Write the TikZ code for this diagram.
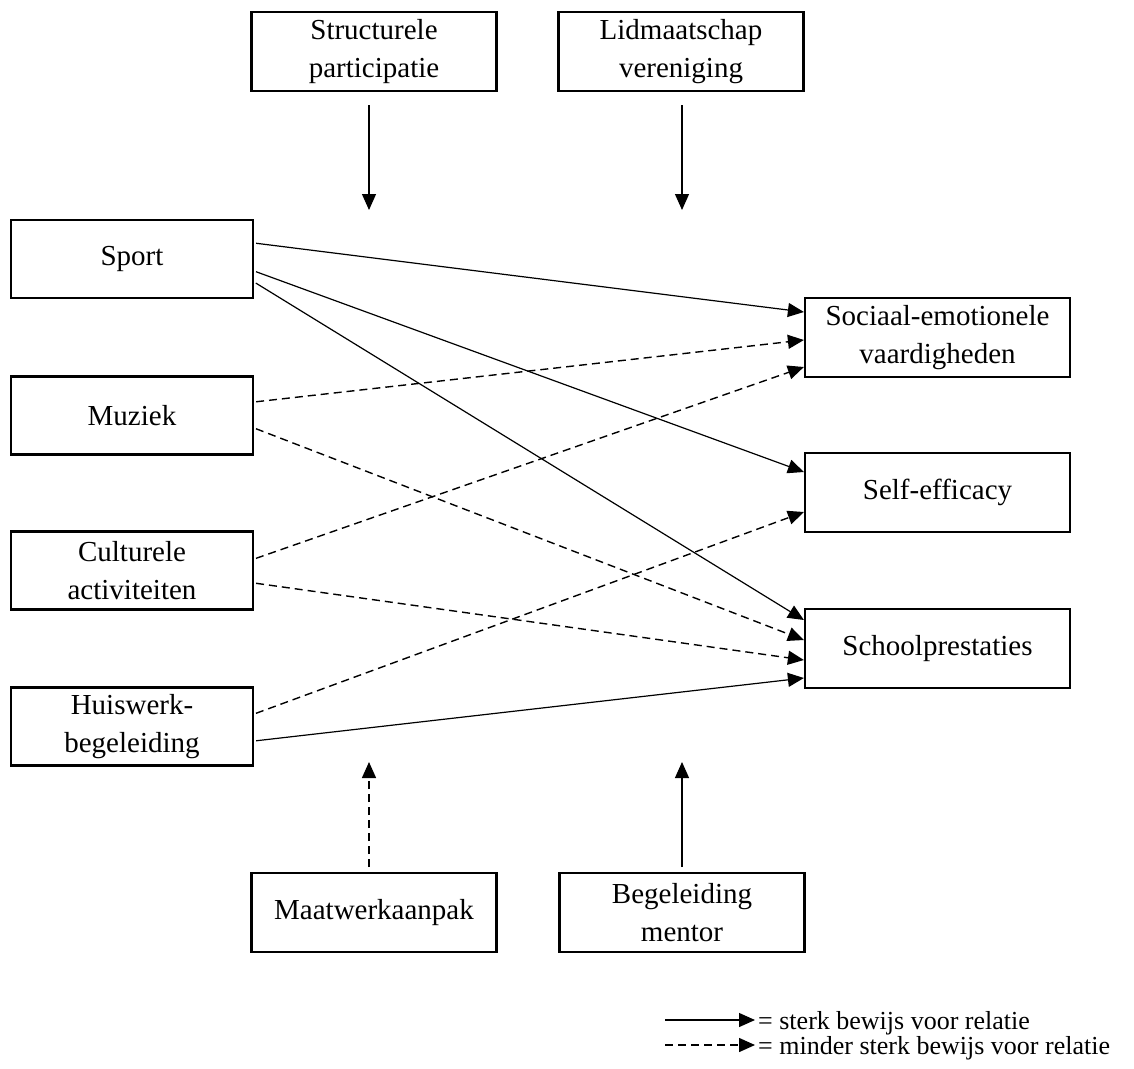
\documentclass[tikz,border=0pt]{standalone}
\usepackage{fontspec}
\setmainfont{Liberation Serif}
\usetikzlibrary{arrows.meta}
\begin{document}
\begin{tikzpicture}[x=1pt,y=-1pt,
  box/.style={draw, line width=2.2pt, rectangle, inner sep=0pt, align=center,
    font=\fontsize{29}{38}\selectfont},
  lbox/.style={box, minimum width=242pt, minimum height=78pt},
  rbox/.style={box, minimum width=265pt, minimum height=79pt},
  tbox/.style={box, minimum width=245pt, minimum height=79pt},
  conn/.style={line width=1.2pt, -{Triangle[length=16pt,width=14pt]}},
  dconn/.style={conn, line width=1.4pt, dash pattern=on 8pt off 5pt},
  legtext/.style={anchor=base west, inner sep=0pt, text height=14pt, text depth=3pt,
    font=\fontsize{26}{31}\selectfont},
]
\useasboundingbox (0,0) rectangle (1134,1068);

% top moderators
\node[tbox] (struct) at (374,51.5) {Structurele\\participatie};
\node[tbox] (lid) at (681,51.5) {Lidmaatschap\\vereniging};
% bottom moderators
\node[tbox] (maat) at (374,912.5) {Maatwerkaanpak};
\node[tbox] (beg) at (682,912.5) {Begeleiding\\mentor};

% left activities
\node[lbox] (sport) at (132,259) {Sport};
\node[lbox] (muziek) at (132,415.5) {Muziek};
\node[lbox] (cult) at (132,570.5) {Culturele\\activiteiten};
\node[lbox] (huis) at (132,726.5) {Huiswerk-\\begeleiding};

% right outcomes
\node[rbox] (soc) at (937.5,337.5) {Sociaal-emotionele\\vaardigheden};
\node[rbox] (self) at (937.5,492.5) {Self-efficacy};
\node[rbox] (school) at (937.5,648.5) {Schoolprestaties};

% moderator arrows
\coordinate (t1s) at (369,105);
\coordinate (t1e) at (369,210);
\coordinate (t2s) at (682,105);
\coordinate (t2e) at (682,210);
\coordinate (b1s) at (369,867);
\coordinate (b1e) at (369,762);
\coordinate (b2s) at (682,867);
\coordinate (b2e) at (682,762);
\draw[conn] (t1s) -- (t1e);
\draw[conn] (t2s) -- (t2e);
\draw[dconn] (b1s) -- (b1e);
\draw[conn] (b2s) -- (b2e);

% relations
\draw[conn, shorten <=2pt] ([yshift=16pt]sport.east) -- ([yshift=25.5pt]soc.west);
\draw[conn, shorten <=2pt] ([yshift=-12pt]sport.east) -- ([yshift=20.5pt]self.west);
\draw[conn, shorten <=2pt] ([yshift=-23pt]sport.east) -- ([yshift=28.5pt]school.west);
\draw[dconn, shorten <=2pt] ([yshift=13.5pt]muziek.east) -- ([yshift=-2.5pt]soc.west);
\draw[dconn, shorten <=2pt] ([yshift=-12.5pt]muziek.east) -- ([yshift=8.5pt]school.west);
\draw[dconn, shorten <=2pt] ([yshift=11.5pt]cult.east) -- ([yshift=-29.5pt]soc.west);
\draw[dconn, shorten <=2pt] ([yshift=-12.5pt]cult.east) -- ([yshift=-11.5pt]school.west);
\draw[dconn, shorten <=2pt] ([yshift=12.5pt]huis.east) -- ([yshift=-19.5pt]self.west);
\draw[conn, shorten <=2pt] ([yshift=-14.5pt]huis.east) -- ([yshift=-29.5pt]school.west);

% legend
\coordinate (l1s) at (665,1020);
\coordinate (l1e) at (755,1020);
\coordinate (l2s) at (665,1045);
\coordinate (l2e) at (755,1045);
\draw[conn] (l1s) -- (l1e);
\draw[dconn] (l2s) -- (l2e);
\node[legtext] (leg1) at (758,1029) {= sterk bewijs voor relatie};
\node[legtext] (leg2) at (758,1054.5) {= minder sterk bewijs voor relatie};
\end{tikzpicture}
\end{document}
